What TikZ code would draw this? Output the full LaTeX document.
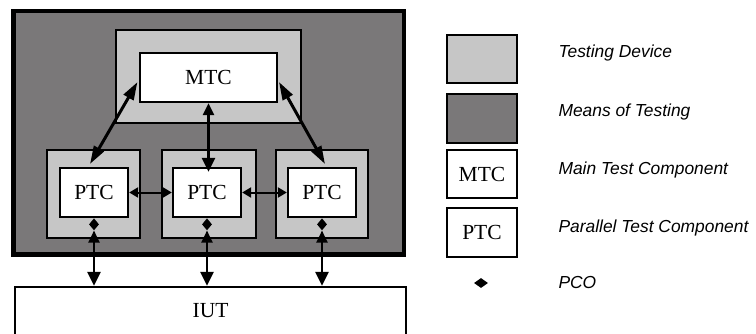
\documentclass[tikz,border=0pt]{standalone}
\usepackage{fontspec}
\setmainfont{Liberation Serif}
\setsansfont{Liberation Sans}
\usetikzlibrary{shapes.geometric,arrows.meta}
\definecolor{devgray}{RGB}{198,198,198}
\definecolor{motgray}{RGB}{122,120,121}

\begin{document}
\begin{tikzpicture}[x=1pt,y=-1pt,
  comp/.style={draw,fill=white,line width=2.3pt,inner sep=0pt,
    minimum height=49pt,font=\fontsize{21.5}{21.5}\selectfont},
  pco/.style={diamond,fill=black,inner sep=0pt,minimum width=10pt,minimum height=12pt},
  link/.style={line width=2.3pt,{Triangle[length=12pt,width=11pt]}-{Triangle[length=14pt,width=13pt]}},
  slant/.style={line width=3pt,{Triangle[length=18pt,width=11pt]}-{Triangle[length=18pt,width=11pt]}},
  peer/.style={line width=2pt,{Triangle[length=9pt,width=10pt]}-{Triangle[length=9pt,width=10pt]}},
  legend/.style={anchor=west,font=\fontsize{17.4}{17.4}\selectfont\sffamily\itshape}]
\useasboundingbox (0,0) rectangle (756,333);
% means of testing
\path[draw,fill=motgray,line width=4.5pt] (13.5,11) rectangle (404,254.5);
% testing devices
\path[draw,fill=devgray,line width=2.3pt] (116,30) rectangle (301,123);
\path[draw,fill=devgray,line width=2.3pt] (47,150) rectangle (140,238);
\path[draw,fill=devgray,line width=2.3pt] (162,150) rectangle (256,238);
\path[draw,fill=devgray,line width=2.3pt] (276,150) rectangle (368,238);
% components
\node[comp,minimum width=137pt] (mtc) at (208.5,77.5) {MTC};
\node[comp,minimum width=68pt] (ptcA) at (94,192.5) {PTC};
\node[comp,minimum width=68pt] (ptcB) at (207,192.5) {PTC};
\node[comp,minimum width=68pt] (ptcC) at (322,192.5) {PTC};
\node[comp,minimum width=391pt,minimum height=48pt] (iut) at (210.5,311) {IUT};
\node[pco,anchor=north] (pcoA) at (ptcA.south) {};
\node[pco,anchor=north] (pcoB) at (ptcB.south) {};
\node[pco,anchor=north] (pcoC) at (ptcC.south) {};
\coordinate (mtcL) at (137.5,82);
\coordinate (mtcR) at (279,82);
\coordinate (ptcAtop) at (90,164);
\coordinate (ptcCtop) at (325,164);
% connections
\draw[slant] (mtcL) -- (ptcAtop);
\draw[slant] (mtcR) -- (ptcCtop);
\draw[link] (mtc.south) -- ([yshift=-5pt]mtc.south |- ptcB.north);
\draw[peer] (ptcA.east) -- (ptcB.west);
\draw[peer] (ptcB.east) -- (ptcC.west);
\draw[link] (pcoA.south) -- (pcoA.south |- iut.north);
\draw[link] (pcoB.south) -- (pcoB.south |- iut.north);
\draw[link] (pcoC.south) -- (pcoC.south |- iut.north);
% legend
\path[draw,fill=devgray,line width=2.3pt] (447,35) rectangle (517,83);
\path[draw,fill=motgray,line width=2.3pt] (447,94) rectangle (517,143);
\node[comp,minimum width=70pt,minimum height=48pt] (keyM) at (482,174) {MTC};
\node[comp,minimum width=70pt,minimum height=49pt] (keyP) at (482,232.5) {PTC};
\node[pco,minimum width=14pt,minimum height=10pt] (keyO) at (481,283) {};
\node[legend] (txtD) at (555,53) {Testing Device};
\node[legend] (txtM) at (555,112) {Means of Testing};
\node[legend] (txtC) at (555,170) {Main Test Component};
\node[legend] (txtP) at (555,228) {Parallel Test Component};
\node[legend] (txtO) at (555,283) {PCO};
\end{tikzpicture}
\end{document}
